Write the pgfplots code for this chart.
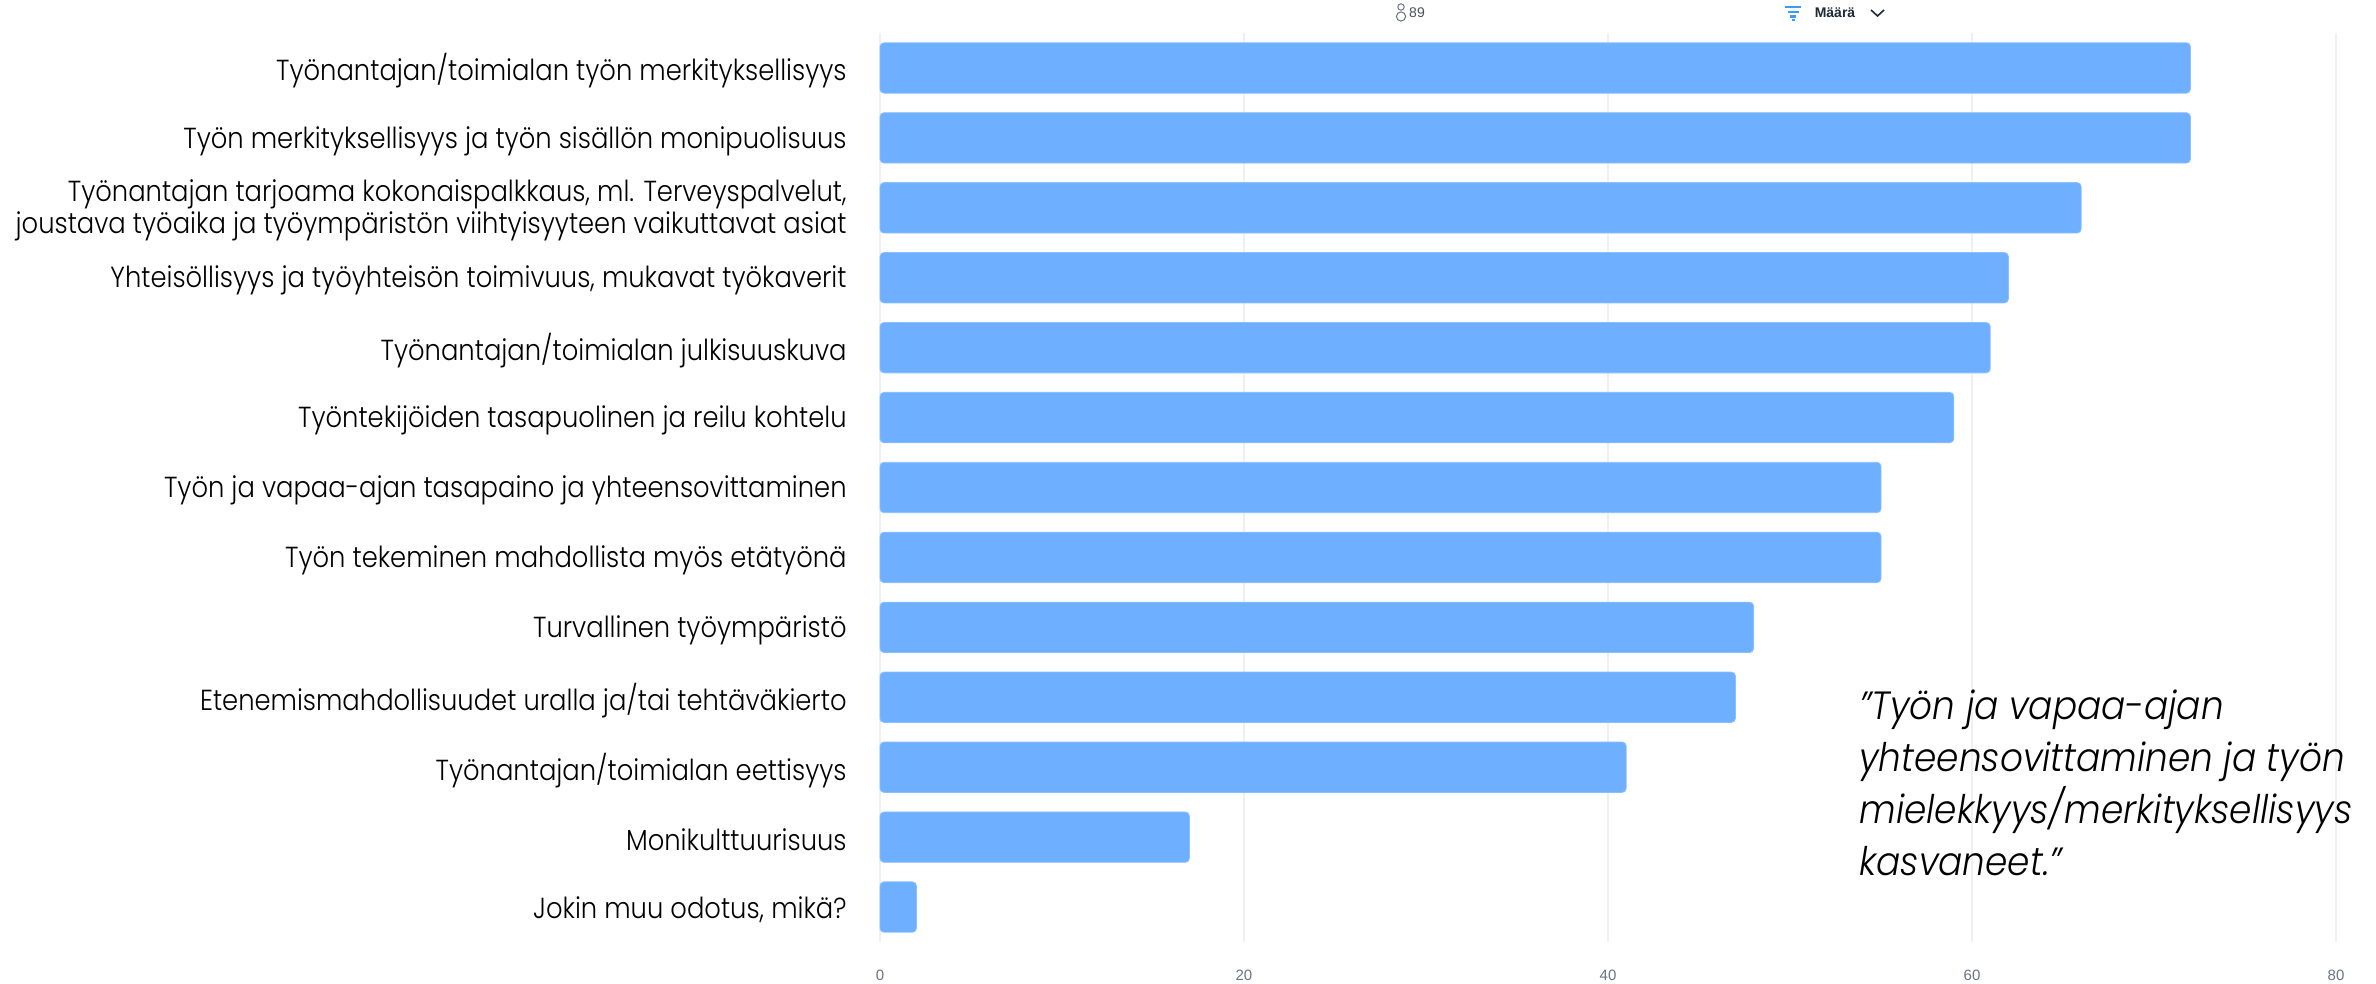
\documentclass[border=0pt]{standalone}
\usepackage{fontspec}
\usepackage{pgfplots}
\pgfplotsset{compat=1.18}
\setmainfont{Poppins}[UprightFont=* Light, ItalicFont=* Light Italic, FakeStretch=0.89]
\newfontfamily\uifont{Liberation Sans}
\newfontfamily\quotefont{Poppins}[UprightFont=* Light, ItalicFont=* Light Italic, FakeStretch=0.91]
\definecolor{barblue}{HTML}{6EB0FF}
\definecolor{gridgrey}{HTML}{EDF1F3}
\definecolor{ticktext}{HTML}{6B7280}
\definecolor{headtext}{HTML}{1F2937}
\definecolor{funnel}{HTML}{3B9CF5}
\pgfplotstableread[col sep=comma]{
idx,v
0,72
1,72
2,66
3,62
4,61
5,59
6,55
7,55
8,48
9,47
10,41
11,17
12,2
}\expectations
\begin{document}
\begin{tikzpicture}[x=0.5pt,y=0.5pt]
\path[use as bounding box] (0,0) rectangle (2376,984);
\begin{axis}[
  at={(440pt,21pt)}, anchor=south west,
  scale only axis, width=728pt, height=454.5pt,
  xmin=0, xmax=80, ymin=-0.5, ymax=12.5, y dir=reverse,
  xbar, bar width=25.2pt, bar shift=0pt,
  axis line style={draw=none},
  xtick={0,20,40,60,80},
  xmajorgrids, major grid style={gridgrey, line width=1pt},
  major tick length=0pt,
  ytick={0,...,12},
  yticklabels={
    Työnantajan/toimialan työn merkityksellisyys,
    Työn merkityksellisyys ja työn sisällön monipuolisuus,
    {Työnantajan tarjoama kokonaispalkkaus, ml. Terveyspalvelut,\\joustava työaika ja työympäristön viihtyisyyteen vaikuttavat asiat},
    {Yhteisöllisyys ja työyhteisön toimivuus, mukavat työkaverit},
    Työnantajan/toimialan julkisuuskuva,
    Työntekijöiden tasapuolinen ja reilu kohtelu,
    Työn ja vapaa-ajan tasapaino ja yhteensovittaminen,
    Työn tekeminen mahdollista myös etätyönä,
    Turvallinen työympäristö,
    Etenemismahdollisuudet uralla ja/tai tehtäväkierto,
    Työnantajan/toimialan eettisyys,
    Monikulttuurisuus,
    {Jokin muu odotus, mikä?}
  },
  yticklabel style={align=right, font=\fontsize{14.5pt}{16pt}\selectfont, inner sep=0pt, text=black},
  ytick pos=left, yticklabel pos=left,
  y tick label style={xshift=-16.5pt, yshift=-1.5pt},
  xticklabel style={font=\uifont\fontsize{7.5pt}{8pt}\selectfont, text=ticktext, inner sep=0pt, yshift=-14pt},
  /pgf/number format/assume math mode=true,
  clip=false,
]
\addplot[fill=barblue, draw=barblue!80!white, line width=0.4pt, rounded corners=2pt]
  table[col sep=comma, x=v, y=idx] {\expectations};
\end{axis}
% respondent count and sort control in the header strip
\draw[ticktext,line width=0.5pt] (1401,977) circle (3.2);
\draw[ticktext,line width=0.5pt] (1401,967.5) circle (4.6);
\node[font=\uifont\fontsize{7pt}{8pt}\selectfont, text=ticktext!70!black] at (1417,971) {89};
\fill[funnel] (1785,978) rectangle (1801,975.5);
\fill[funnel] (1787.5,973) rectangle (1798.5,970.5);
\fill[funnel] (1790,968.5) rectangle (1796,966);
\fill[funnel] (1791.5,964.5) rectangle (1794.5,962.5);
\node[font=\uifont\bfseries\fontsize{7pt}{8pt}\selectfont, text=headtext] at (1835,971) {Määrä};
\draw[headtext, line width=0.8pt] (1871,974) -- (1877.5,968) -- (1884,974);
% quotation beside the lower bars
\node[anchor=north west, align=left, inner sep=0pt, font=\quotefont\itshape\fontsize{19.7pt}{26pt}\selectfont] at (1859,295)
  {”Työn ja vapaa-ajan\\yhteensovittaminen ja työn\\mielekkyys/merkityksellisyys\\kasvaneet.”};
\end{tikzpicture}
\end{document}
